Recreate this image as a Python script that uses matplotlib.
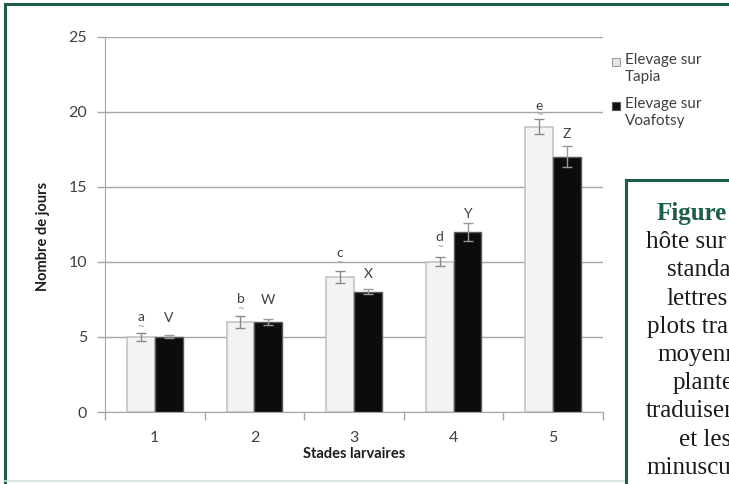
#!/usr/bin/env python3
"""Durée des stades larvaires selon la plante hôte."""
import numpy as np
import matplotlib
matplotlib.use("Agg")
import matplotlib.pyplot as plt
from matplotlib.patches import Rectangle
from matplotlib.lines import Line2D

stades = ["1", "2", "3", "4", "5"]
tapia = [5, 6, 9, 10, 19]
tapia_err = [0.25, 0.4, 0.4, 0.3, 0.5]
voafotsy = [5, 6, 8, 12, 17]
voafotsy_err = [0.1, 0.2, 0.17, 0.6, 0.7]
lettres_tapia = ["a", "b", "c", "d", "e"]
lettres_voafotsy = ["V", "W", "X", "Y", "Z"]
y_lettres_tapia = [6.3, 7.5, 10.6, 11.65, 20.4]
y_lettres_voafotsy = [6.25, 7.45, 9.2, 13.15, 18.5]
legende = ["Elevage sur\nTapia", "Elevage sur\nVoafotsy"]
legende_couleurs = ["#e6e6e6", "#111111"]
legende_bords = ["#a0a0a0", "#555555"]
# fragments visibles de la légende de figure (coupée à droite)
legende_fig = ["Figure", "hôte sur l", "standard", "lettres", "plots trac",
               "moyennes", "plantes", "traduisent", "et les", "minuscules"]
legende_fig_x = [657, 646, 667, 666, 647, 657, 673, 646, 679, 646]

W, H = 729, 484
VERT = "#1d5e45"
GRIS = "#a6a6a6"
TEXTE = "#404040"


def fx(px):
    return px / W


def fy(py):
    return 1 - py / H


def main():
    fig = plt.figure(figsize=(W / 100, H / 100), dpi=100)
    fig.patch.set_facecolor("white")

    ax = fig.add_axes([fx(105), fy(412), fx(603) - fx(105), fy(36.5) - fy(412)])
    x = np.arange(1, len(stades) + 1)
    w = 0.28

    ax.bar(x - 0.14, tapia, w, color="#f3f3f3", edgecolor="#c4c4c4", linewidth=1.2, zorder=3)
    ax.bar(x + 0.14, voafotsy, w, color="#0c0c0c", edgecolor="#5a5a5a", linewidth=1.0, zorder=3)
    ax.errorbar(x - 0.14, tapia, yerr=tapia_err, fmt="none", ecolor="#8a8a8a",
                elinewidth=1, capsize=3.5, capthick=1, zorder=4)
    ax.errorbar(x + 0.14, voafotsy, yerr=voafotsy_err, fmt="none", ecolor="#9a9a9a",
                elinewidth=1, capsize=3.5, capthick=1, zorder=4)

    for xi, lab, yl in zip(x, lettres_tapia, y_lettres_tapia):
        ax.text(xi - 0.14, yl, lab, ha="center", va="center", fontsize=10,
                family="Lato", color=TEXTE, zorder=5)
        # soulignement ondulé du correcteur, visible sous les minuscules
        ax.text(xi - 0.14, yl - 0.62, "~", ha="center", va="center", fontsize=6,
                family="DejaVu Sans", color="#9a9a9a", zorder=5)
    for xi, lab, yl in zip(x, lettres_voafotsy, y_lettres_voafotsy):
        ax.text(xi + 0.14, yl, lab, ha="center", va="center", fontsize=10,
                family="Lato", color=TEXTE, zorder=5)

    ax.set_xlim(0.5, len(stades) + 0.5)
    ax.set_ylim(0, 25)
    ax.set_yticks(range(0, 26, 5))
    ax.yaxis.grid(True, color=GRIS, linewidth=1)
    ax.set_axisbelow(True)
    ax.tick_params(axis="y", length=6, width=1, color=GRIS, pad=7,
                   labelsize=11.5, labelcolor=TEXTE)
    for t in ax.get_yticklabels():
        t.set_family("Lato")

    # ticks between categories, labels at the centres
    ax.set_xticks(np.arange(0.5, len(stades) + 1, 1.0))
    ax.set_xticklabels([])
    ax.set_xticks(x, minor=True)
    ax.set_xticklabels(stades, minor=True, family="Lato", fontsize=11.5, color=TEXTE)
    ax.tick_params(axis="x", which="major", length=6, width=1, color=GRIS)
    ax.tick_params(axis="x", which="minor", length=0, pad=14)

    for s in ["top", "right"]:
        ax.spines[s].set_visible(False)
    ax.spines["left"].set_color(GRIS)
    ax.spines["bottom"].set_color(GRIS)

    fig.text(fx(43), fy(236), "Nombre de jours", rotation=90, ha="center", va="center",
             family="Lato", fontweight="bold", fontsize=10.5, color="#1a1a1a")
    fig.text(fx(354), fy(454), "Stades larvaires", ha="center", va="center",
             family="Lato", fontweight="bold", fontsize=10.5, color="#1a1a1a")

    # legend
    for i, (lab, c, b) in enumerate(zip(legende, legende_couleurs, legende_bords)):
        y0 = 62 + 44 * i
        fig.add_artist(Rectangle((fx(612), fy(y0 + 4)), fx(8), 8 / H,
                                 facecolor=c, edgecolor=b, linewidth=0.8))
        fig.text(fx(625), fy(y0 - 9), lab, ha="left", va="top", family="Lato",
                 fontsize=11, color=TEXTE, linespacing=1.3)

    # outer green frame of the page
    fig.add_artist(Line2D([fx(5), fx(5)], [fy(4), fy(484)], color=VERT, linewidth=2.2))
    fig.add_artist(Line2D([fx(5), 1], [fy(4), fy(4)], color=VERT, linewidth=2.2))
    fig.add_artist(Line2D([fx(5), fx(626)], [fy(481), fy(481)], color="#d3e2da", linewidth=1.2))

    # caption box on the right, cut by the edge of the picture
    fig.add_artist(Rectangle((fx(626), 0), 1 - fx(626), fy(180), facecolor="white",
                             edgecolor="none", zorder=6))
    fig.add_artist(Line2D([fx(626), fx(626)], [fy(180), 0], color=VERT, linewidth=2.2, zorder=7))
    fig.add_artist(Line2D([fx(626), 1], [fy(180), fy(180)], color=VERT, linewidth=2.2, zorder=7))
    for i, (ligne, lx) in enumerate(zip(legende_fig, legende_fig_x)):
        gras = i == 0
        fig.text(fx(lx), fy(220 + 28.2 * i), ligne, ha="left", va="baseline",
                 family="Liberation Serif", fontsize=18,
                 fontweight="bold" if gras else "normal",
                 color=VERT if gras else "#1a1a1a", zorder=8)

    fig.savefig("out.png", dpi=100)
    plt.close(fig)


if __name__ == "__main__":
    main()
